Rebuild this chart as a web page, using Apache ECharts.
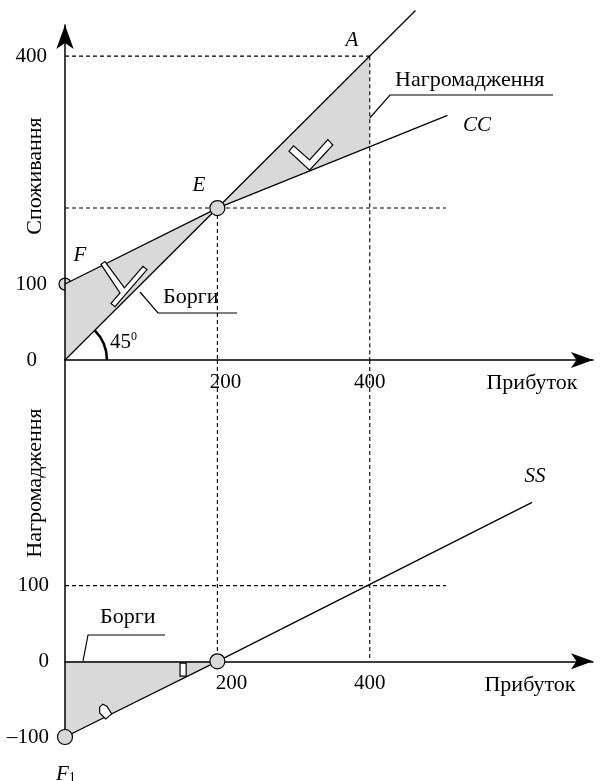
<!DOCTYPE html>
<html><head><meta charset="utf-8">
<script src="https://cdn.jsdelivr.net/npm/echarts@6/dist/echarts.min.js"></script>
<style>html,body{margin:0;padding:0;background:#fff}#c{width:604px;height:781px}</style>
</head><body><div id="c"></div>
<script>
// ---- data ----
const xTickLabels = [200, 400];
const topYTickLabels = [0, 100, 400];
const bottomYTickLabels = [-100, 0, 100];
const line45 = [[0, 0], [460, 460]];
const ccLine = [[0, 100], [200, 200], [502, 322]];
const ssLine = [[0, -100], [200, 0], [613, 210]];
const debtTopArea = [[0, 0], [0, 100], [200, 200]];
const savingTopArea = [[200, 200], [400, 400], [400, 281]];
const debtBottomArea = [[0, 0], [0, -100], [200, 0]];
const topGuides = [[[0, 400], [400, 400]], [[0, 200], [500, 200]], [[400, 400], [400, 0]], [[200, 200], [200, 0]]];
const bottomGuides = [[[0, 100], [500, 100]], [[200, 398], [200, 0]], [[400, 398], [400, 0]]];
const pointF = [[0, 100]];
const pointE = [[200, 200]];
const bottomPoints = [[0, -100], [200, 0]];
const iconCheck = [[294, 275], [300, 282], [321, 263.5], [345, 290], [351.5, 283], [321, 250]];
const iconY = [[60.4, 74.5], [72.2, 88.2], [47.2, 125.9], [52.5, 129.5], [78, 94.9], [102.4, 123.2], [107.6, 119], [65.6, 70.3]];
const iconRect = [[151, -2.5], [159, -2.5], [159, -19.5], [151, -19.5]];
const iconHouse = [[45.5, -60.5], [49.5, -56.7], [55, -59.3], [61.3, -69.6], [53.4, -76.2], [45.5, -68.3]];

const FONT = '"Liberation Serif", "Times New Roman", serif';
const GREY = '#d9d9d9';
const BOTTOM_Y_MIN = -100, BOTTOM_Y_MAX = 398, BOTTOM_H = 377;

function lineSeries(pts, gi, style, z) {
  return { type: 'line', xAxisIndex: gi, yAxisIndex: gi, data: pts, showSymbol: false, symbol: 'none',
    clip: false, silent: true, z: z, animation: false, lineStyle: style };
}
function polySeries(pts, gi, style, z) {
  return { type: 'custom', xAxisIndex: gi, yAxisIndex: gi, z: z, silent: true, clip: false, animation: false,
    data: [[pts[0][0], pts[0][1]]],
    renderItem: (p, api) => ({ type: 'polygon', shape: { points: pts.map(q => api.coord(q)) }, style: style }) };
}
function circles(pts, gi, size, z) {
  return { type: 'scatter', xAxisIndex: gi, yAxisIndex: gi, data: pts, symbolSize: size, z: z, silent: true,
    animation: false, clip: false, itemStyle: { color: GREY, borderColor: '#000', borderWidth: 1.2, opacity: 1 } };
}

const solid = { color: '#000', width: 1.3 };
const dashed = { color: '#000', width: 1.1, type: [4, 3] };

const series = [];
series.push(polySeries(debtTopArea, 0, { fill: GREY }, 2));
series.push(polySeries(savingTopArea, 0, { fill: GREY }, 2));
series.push(polySeries(debtBottomArea, 1, { fill: GREY }, 2));
topGuides.forEach(g => series.push(lineSeries(g, 0, dashed, 3)));
bottomGuides.forEach(g => series.push(lineSeries(g, 1, dashed, 3)));
series.push(lineSeries(line45, 0, solid, 4));
series.push(lineSeries(ccLine, 0, solid, 4));
series.push(lineSeries(ssLine, 1, solid, 4));
const iconStyle = { fill: '#fff', stroke: '#000', lineWidth: 1.2 };
series.push(polySeries(iconCheck, 0, iconStyle, 5));
series.push(polySeries(iconY, 0, iconStyle, 5));
series.push(polySeries(iconRect, 1, iconStyle, 5));
series.push(polySeries(iconHouse, 1, iconStyle, 5));
series.push({ type: 'custom', xAxisIndex: 0, yAxisIndex: 0, z: 5, silent: true, clip: false, animation: false,
  data: [[0, 0]],
  renderItem: (p, api) => {
    const c = api.coord([0, 0]);
    return { type: 'arc', shape: { cx: c[0], cy: c[1], r: 42, startAngle: -Math.PI / 4, endAngle: 0, clockwise: true },
      style: { stroke: '#000', lineWidth: 2.6, fill: null } };
  } });
series.push(circles(pointF, 0, 12, 1));
series.push(circles(pointE, 0, 15, 7));
series.push(circles(bottomPoints, 1, 15, 7));

function axisLineStyle(arrow, onZero) {
  return { show: true, onZero: onZero, symbol: arrow ? ['none', 'arrow'] : 'none', symbolSize: arrow || [10, 10],
    lineStyle: { color: '#000', width: 1.5 } };
}
const labelBase = { color: '#000', fontFamily: FONT, fontSize: 21 };

function xAxis(gi, shift200, offset) {
  return { gridIndex: gi, type: 'value', min: 0, max: 693, interval: 200, z: 6, offset: offset,
    axisLine: axisLineStyle([12, 22], false), axisTick: { show: false }, splitLine: { show: false },
    axisLabel: Object.assign({}, labelBase, { margin: 12, showMaxLabel: false,
      formatter: v => xTickLabels.includes(v) ? (v === 200 ? '{s|' + v + '}' : '{n|' + v + '}') : '',
      rich: { s: { fontFamily: FONT, fontSize: 21, color: '#000', padding: [0, 0, 0, shift200] },
              n: { fontFamily: FONT, fontSize: 21, color: '#000' } } }) };
}
// pixel distance of y = 0 above the bottom grid's lower edge
const zeroLift = BOTTOM_H * (0 - BOTTOM_Y_MIN) / (BOTTOM_Y_MAX - BOTTOM_Y_MIN);

const option = {
  animation: false,
  backgroundColor: '#fff',
  grid: [
    { left: 65, top: 25, width: 528, height: 335 },
    { left: 65, top: 360, width: 528, height: BOTTOM_H }
  ],
  xAxis: [xAxis(0, 16, 0), xAxis(1, 28, -zeroLift)],
  yAxis: [
    { gridIndex: 0, type: 'value', min: 0, max: 441, interval: 100, z: 6,
      axisLine: axisLineStyle([13, 24], true), axisTick: { show: false }, splitLine: { show: false },
      axisLabel: Object.assign({}, labelBase, { margin: 18, showMaxLabel: false,
        formatter: v => topYTickLabels.includes(v) ? (v === 0 ? '{z|0}' : '{n|' + v + '}') : '',
        rich: { z: { fontFamily: FONT, fontSize: 21, color: '#000', padding: [0, 10, 0, 0] },
                n: { fontFamily: FONT, fontSize: 21, color: '#000' } } }) },
    { gridIndex: 1, type: 'value', min: BOTTOM_Y_MIN, max: BOTTOM_Y_MAX, interval: 100, z: 6,
      axisLine: axisLineStyle(null, true), axisTick: { show: false }, splitLine: { show: false },
      axisLabel: Object.assign({}, labelBase, { margin: 16, showMaxLabel: false,
        formatter: v => bottomYTickLabels.includes(v) ? String(v).replace('-', '–') : '' }) }
  ],
  graphic: [
    { type: 'text', x: 35, y: 176, rotation: Math.PI / 2, style: { text: 'Споживання', font: '22px ' + FONT, fill: '#000', align: 'center', verticalAlign: 'middle' } },
    { type: 'text', x: 35, y: 483, rotation: Math.PI / 2, style: { text: 'Нагромадження', font: '22px ' + FONT, fill: '#000', align: 'center', verticalAlign: 'middle' } },
    { type: 'text', x: 532, y: 383, style: { text: 'Прибуток', font: '22px ' + FONT, fill: '#000', align: 'center', verticalAlign: 'middle' } },
    { type: 'text', x: 530, y: 685, style: { text: 'Прибуток', font: '22px ' + FONT, fill: '#000', align: 'center', verticalAlign: 'middle' } },
    { type: 'text', x: 352, y: 40, style: { text: 'A', font: 'italic 21px ' + FONT, fill: '#000', align: 'center', verticalAlign: 'middle' } },
    { type: 'text', x: 199, y: 185, style: { text: 'E', font: 'italic 21px ' + FONT, fill: '#000', align: 'center', verticalAlign: 'middle' } },
    { type: 'text', x: 80, y: 255, style: { text: 'F', font: 'italic 21px ' + FONT, fill: '#000', align: 'center', verticalAlign: 'middle' } },
    { type: 'text', x: 477, y: 125, style: { text: 'CC', font: 'italic 21px ' + FONT, fill: '#000', align: 'center', verticalAlign: 'middle' } },
    { type: 'text', x: 535, y: 476, style: { text: 'SS', font: 'italic 21px ' + FONT, fill: '#000', align: 'center', verticalAlign: 'middle' } },
    { type: 'text', x: 56, y: 774, style: { text: '{f|F}{s|1}', align: 'left', verticalAlign: 'middle',
        rich: { f: { font: 'italic 21px ' + FONT, fill: '#000' }, s: { font: '14px ' + FONT, fill: '#000', padding: [8, 0, 0, 0] } } } },
    { type: 'text', x: 110, y: 342, style: { text: '{a|45}{b|0}', align: 'left', verticalAlign: 'middle',
        rich: { a: { font: '21px ' + FONT, fill: '#000' }, b: { font: '12px ' + FONT, fill: '#000', padding: [0, 0, 10, 0] } } } },
    { type: 'text', x: 395, y: 80, style: { text: 'Нагромадження', font: '22px ' + FONT, fill: '#000', align: 'left', verticalAlign: 'middle' } },
    { type: 'text', x: 163, y: 297, style: { text: 'Борги', font: '22px ' + FONT, fill: '#000', align: 'left', verticalAlign: 'middle' } },
    { type: 'text', x: 100, y: 617, style: { text: 'Борги', font: '22px ' + FONT, fill: '#000', align: 'left', verticalAlign: 'middle' } },
    { type: 'polyline', shape: { points: [[368, 120], [390, 95], [553, 95]] }, style: { stroke: '#000', lineWidth: 1.2, fill: null } },
    { type: 'polyline', shape: { points: [[140, 292], [158, 313], [237, 313]] }, style: { stroke: '#000', lineWidth: 1.2, fill: null } },
    { type: 'polyline', shape: { points: [[83, 661], [88, 635], [165, 635]] }, style: { stroke: '#000', lineWidth: 1.2, fill: null } }
  ],
  series: series
};
const chart = echarts.init(document.getElementById('c'), null, { renderer: 'canvas' });
chart.setOption(option);
</script></body></html>
